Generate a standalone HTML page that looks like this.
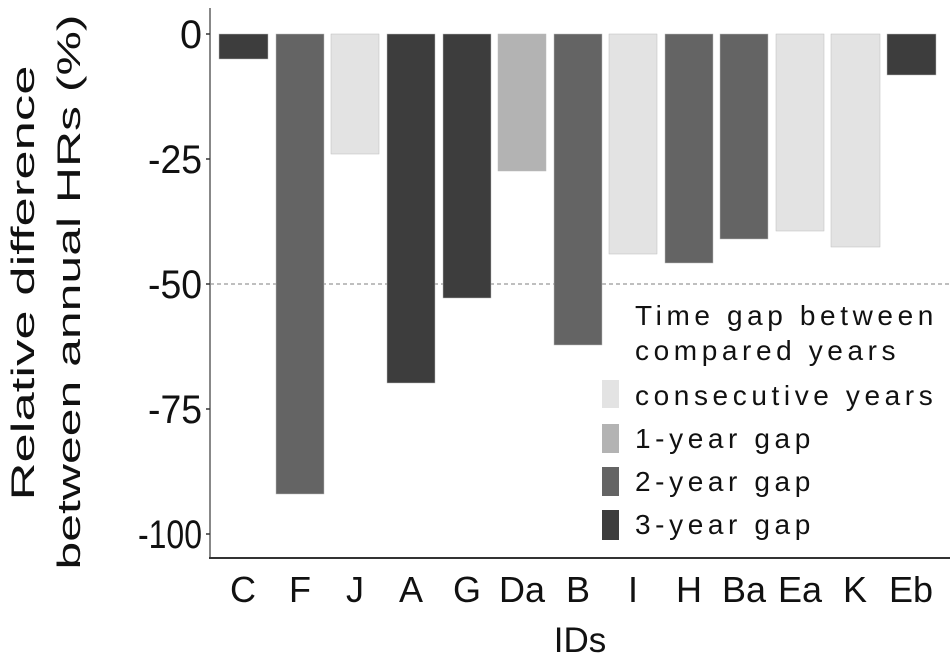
<!DOCTYPE html>
<html><head><meta charset="utf-8"><style>
html,body{margin:0;padding:0;background:#fff;}
svg text{font-family:"Liberation Sans",sans-serif;fill:#111;}
</style></head><body>
<svg width="950" height="663" xmlns="http://www.w3.org/2000/svg">
<line x1="210" y1="284" x2="950" y2="284" stroke="#aaa" stroke-width="1.5" stroke-dasharray="4,3"/>
<g stroke="#bbb" stroke-width="0.5">
<rect x="219" y="34" width="49" height="25" fill="#3d3d3d"/>
<rect x="276" y="34" width="48" height="460" fill="#646464"/>
<rect x="331" y="34" width="48" height="120" fill="#e3e3e3"/>
<rect x="387" y="34" width="48" height="349" fill="#3d3d3d"/>
<rect x="443" y="34" width="48" height="264" fill="#3d3d3d"/>
<rect x="498" y="34" width="48" height="137" fill="#b3b3b3"/>
<rect x="554" y="34" width="48" height="311" fill="#646464"/>
<rect x="609" y="34" width="48" height="220" fill="#e3e3e3"/>
<rect x="665" y="34" width="48" height="229" fill="#646464"/>
<rect x="720" y="34" width="48" height="205" fill="#646464"/>
<rect x="776" y="34" width="48" height="197" fill="#e3e3e3"/>
<rect x="831" y="34" width="49" height="213" fill="#e3e3e3"/>
<rect x="887" y="34" width="49" height="41" fill="#3d3d3d"/>
</g>
<line x1="210" y1="8" x2="210" y2="559" stroke="#888" stroke-width="2"/>
<line x1="209" y1="558" x2="950" y2="558" stroke="#333" stroke-width="2"/>
<g stroke="#333" stroke-width="1.5">
<line x1="206" y1="34" x2="210" y2="34"/><line x1="206" y1="159" x2="210" y2="159"/><line x1="206" y1="284" x2="210" y2="284"/><line x1="206" y1="409" x2="210" y2="409"/><line x1="206" y1="534" x2="210" y2="534"/>
</g>
<g font-size="40" text-anchor="end">
<text x="202" y="48" textLength="22" lengthAdjust="spacingAndGlyphs">0</text>
<text x="202" y="173" textLength="54" lengthAdjust="spacingAndGlyphs">-25</text>
<text x="202" y="298" textLength="54" lengthAdjust="spacingAndGlyphs">-50</text>
<text x="202" y="423" textLength="54" lengthAdjust="spacingAndGlyphs">-75</text>
<text x="202" y="548" textLength="64" lengthAdjust="spacingAndGlyphs">-100</text>
</g>
<g font-size="36" text-anchor="middle">
<text x="243" y="602">C</text><text x="300" y="602">F</text><text x="355" y="602">J</text><text x="411" y="602">A</text><text x="467" y="602">G</text><text x="522" y="602">Da</text><text x="578" y="602">B</text><text x="633" y="602">I</text><text x="689" y="602">H</text><text x="744" y="602">Ba</text><text x="800" y="602">Ea</text><text x="855" y="602">K</text><text x="911" y="602">Eb</text>
<text x="580" y="652" font-size="35">IDs</text>
</g>
<g font-size="32" text-anchor="middle">
<text transform="translate(34,283) rotate(-90)" textLength="435" lengthAdjust="spacingAndGlyphs">Relative difference</text>
<text transform="translate(80,292) rotate(-90)" textLength="555" lengthAdjust="spacingAndGlyphs">between annual HRs (%)</text>
</g>
<g font-size="28" letter-spacing="4.6">
<text x="635" y="325">Time gap between</text>
<text x="635" y="360">compared years</text>
<text x="635" y="405">consecutive years</text>
<text x="635" y="448">1-year gap</text>
<text x="635" y="491">2-year gap</text>
<text x="635" y="534">3-year gap</text>
</g>
<rect x="602" y="380" width="17" height="28" fill="#e3e3e3"/>
<rect x="602" y="424" width="17" height="29" fill="#b3b3b3"/>
<rect x="602" y="467" width="17" height="29" fill="#646464"/>
<rect x="602" y="510" width="17" height="30" fill="#3d3d3d"/>
</svg>
</body></html>
